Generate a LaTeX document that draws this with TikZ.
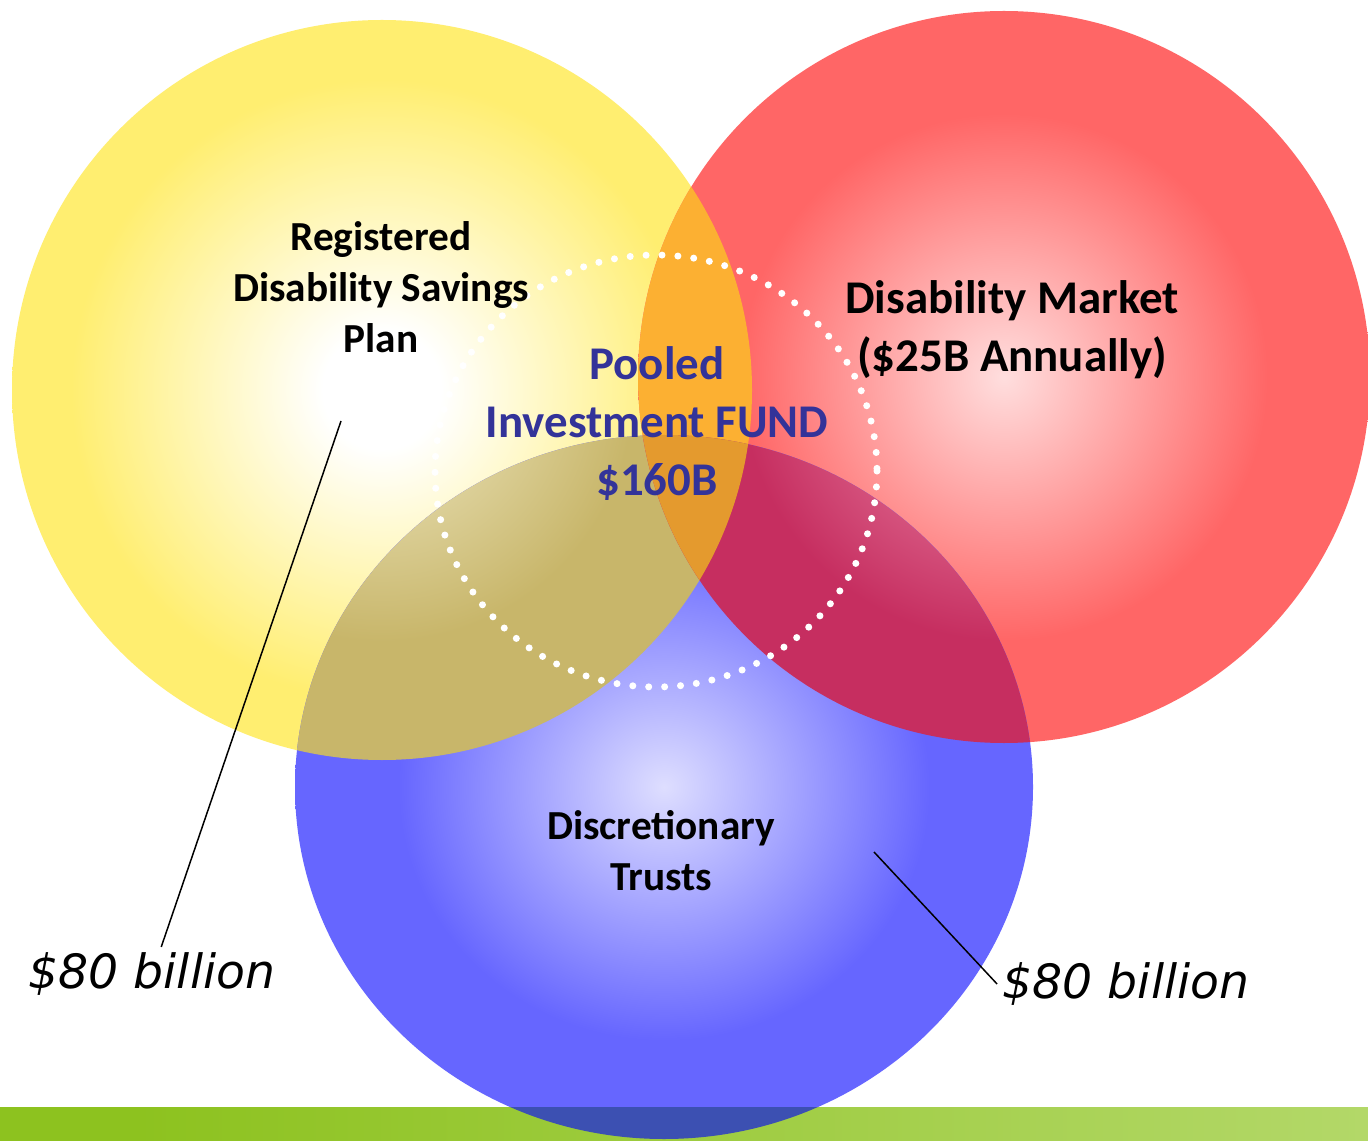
\documentclass[tikz,border=0pt]{standalone}
\usepackage{fontspec}
\setmainfont{Carlito}
\newfontfamily\sumfont{DejaVu Sans}
\definecolor{rdspyellow}{RGB}{255,238,112}
\definecolor{marketred}{RGB}{255,102,102}
\definecolor{marketglow}{RGB}{255,222,222}
\definecolor{trustblue}{RGB}{102,102,255}
\definecolor{trustglow}{RGB}{222,222,255}
\definecolor{poolorange}{RGB}{252,176,50}
\definecolor{coreorange}{RGB}{228,154,46}
\definecolor{mixolive}{RGB}{200,182,106}
\definecolor{mixolivelight}{RGB}{240,234,200}
\definecolor{mixcrimson}{RGB}{198,46,96}
\definecolor{mixcrimsonlight}{RGB}{240,150,180}
\definecolor{fundblue}{RGB}{51,51,153}
\definecolor{barleft}{RGB}{141,194,31}
\definecolor{barright}{RGB}{200,228,145}
\definecolor{bardeep}{RGB}{60,80,178}
\pgfdeclareradialshading{rdspshade}{\pgfpoint{0bp}{0bp}}{color(0bp)=(white); color(4bp)=(white); color(21bp)=(rdspyellow); color(50bp)=(rdspyellow)}
\pgfdeclareradialshading{marketshade}{\pgfpoint{0bp}{0bp}}{color(0bp)=(marketglow); color(18bp)=(marketred); color(50bp)=(marketred)}
\pgfdeclareradialshading{trustshade}{\pgfpoint{0bp}{0bp}}{color(0bp)=(trustglow); color(18bp)=(trustblue); color(50bp)=(trustblue)}
\pgfdeclareradialshading{oliveshade}{\pgfpoint{0bp}{0bp}}{color(0bp)=(mixolivelight); color(17bp)=(mixolive); color(50bp)=(mixolive)}
\pgfdeclareradialshading{crimsonshade}{\pgfpoint{0bp}{0bp}}{color(0bp)=(mixcrimsonlight); color(18bp)=(mixcrimson); color(50bp)=(mixcrimson)}
\pgfdeclarehorizontalshading{barshade}{100bp}{color(0bp)=(barleft); color(30bp)=(barleft); color(100bp)=(barright)}
\newcommand\rdspdisc{(382,390) circle [radius=370]}
\newcommand\marketdisc{(1004,377) circle [radius=366]}
\newcommand\trustdisc{(664,787) ellipse [x radius=369, y radius=352]}
\begin{document}
\begin{tikzpicture}[x=0.02cm,y=-0.02cm,
        circtext/.style={font=\bfseries\fontsize{23.5}{29}\selectfont,align=center},
        bigtext/.style={font=\bfseries\fontsize{26.7}{33}\selectfont,align=center},
        sumlabel/.style={font=\sumfont\itshape\fontsize{26.9}{32}\selectfont,inner sep=3pt},
        dots/.style={white,line width=4pt,dash pattern=on 0pt off 9.07pt,line cap=round}]
                \useasboundingbox (0,0) rectangle (1368,1141);
                \fill[white] (0,0) rectangle (1368,1141);
                \shade[shading=rdspshade] \rdspdisc;
                \shade[shading=marketshade] \marketdisc;
                \shade[shading=trustshade] \trustdisc;
                \begin{scope}
                        \clip \rdspdisc;
                        \fill[poolorange] \marketdisc;
                \end{scope}
                \begin{scope}
                        \clip \trustdisc;
                        \shade[shading=oliveshade] \rdspdisc;
                \end{scope}
                \begin{scope}
                        \clip \trustdisc;
                        \shade[shading=crimsonshade] \marketdisc;
                \end{scope}
                \begin{scope}
                        \clip \rdspdisc;
                        \clip \marketdisc;
                        \fill[coreorange] \trustdisc;
                \end{scope}
                \shade[shading=barshade] (0,1107) rectangle (1368,1141);
                \begin{scope}
                        \clip (0,1107) rectangle (1368,1141);
                        \fill[bardeep] \trustdisc;
                \end{scope}
                \draw[dots] (656,471) ellipse [x radius=221, y radius=216];
                \node[circtext] (rdsp) at (381,287) {Registered\\Disability Savings\\Plan};
                \node[bigtext] (market) at (1012,330) {Disability Market\\(\$25B Annually)};
                \node[bigtext,text=fundblue] (fund) at (657,424) {Pooled\\Investment FUND\\\$160B};
                \node[circtext] (trusts) at (661,851) {Discretionary\\Trusts};
                \node[sumlabel] (sum_l) at (152,974) {\$80 billion};
                \node[sumlabel] (sum_r) at (1126,984) {\$80 billion};
                \coordinate (ptr_l) at (341,421);
                \coordinate (ptr_r) at (874,852);
                \path[line width=0.85pt]
                (ptr_l) edge (sum_l)
                (ptr_r) edge (sum_r.west);
            \end{tikzpicture}
\end{document}
